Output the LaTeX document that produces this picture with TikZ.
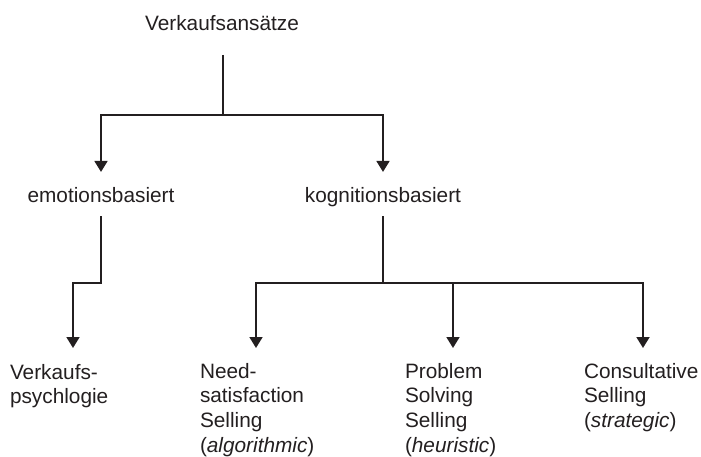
\documentclass[tikz,border=0pt]{standalone}
\usepackage{fontspec}
\setmainfont{Liberation Sans}
\usetikzlibrary{arrows.meta}
\definecolor{ink}{HTML}{231F20}
\begin{document}
\begin{tikzpicture}[x=1pt,y=-1pt,
  every node/.style={inner sep=0pt,outer sep=0pt,text=ink,
    font=\fontsize{20.8}{24.7}\selectfont},
  label/.style={anchor=base},
  leaf/.style={anchor=north west,align=left},
  conn/.style={draw=ink,line width=1.8pt,line join=miter},
  arr/.style={conn,-{Triangle[width=13pt,length=11pt]}}]
\useasboundingbox (0,0) rectangle (701,457);

% levels of the tree
\node[label] (top) at (222,31) {Verkaufsansätze};
\node[label] (emo) at (101,203) {emotionsbasiert};
\node[label] (kog) at (383,203) {kognitionsbasiert};

\node[leaf] (vp) at (10,364) {Verkaufs-\\psychlogie};
\node[leaf] (ns) at (200,363) {Need-\\satisfaction\\Selling\\(\textit{algorithmic})};
\node[leaf] (ps) at (405,363) {Problem\\Solving\\Selling\\(\textit{heuristic})};
\node[leaf] (cs) at (584,363) {Consultative\\Selling\\(\textit{strategic})};

% branching points
\coordinate (j1) at (223,115);
\coordinate (e1) at (101,283);
\coordinate (k1) at (383,283);

% arrow tips above the leaves
\coordinate (tvp) at (73,348);
\coordinate (tns) at (256,348);
\coordinate (tps) at (453,348);
\coordinate (tcs) at (643,348);

% first split
\draw[conn] (top.base) ++(1,24) -- (j1);
\draw[arr] (j1) -| ([yshift=16pt]emo.north);
\draw[arr] (j1) -| ([yshift=16pt]kog.north);

% emotion-based branch
\draw[arr] (emo.base) ++(0,13) -- (e1) -| (tvp);

% cognition-based branch
\draw[conn] (kog.base) ++(0,13) -- (k1);
\draw[arr] (k1) -| (tns);
\draw[arr] (k1) -| (tps);
\draw[arr] (k1) -| (tcs);
\end{tikzpicture}
\end{document}
